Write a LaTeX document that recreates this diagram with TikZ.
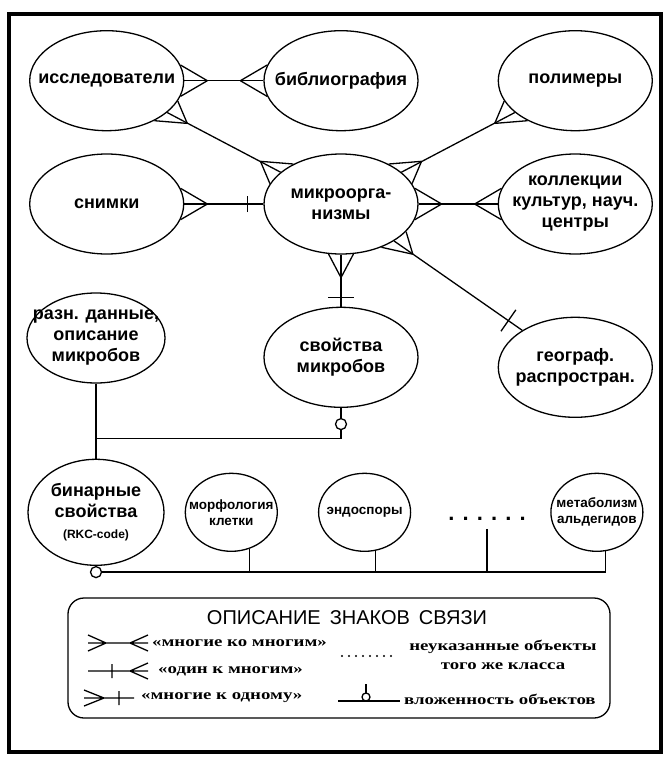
\documentclass[tikz,border=0pt]{standalone}
\usepackage{fontspec}
\setmainfont{Liberation Sans}
\newfontfamily\legendfont[FakeStretch=1.3]{Liberation Serif}
\usetikzlibrary{shapes,positioning,calc}

% crow's foot ("many") at node #2, border angle #3, pointing to #4
\newcommand{\crowfoot}[4][12]{%
  \pgfmathtruncatemacro\angup{#3+#1}%
  \pgfmathtruncatemacro\angdn{#3-#1}%
  \draw[link] ($(#2.#3)!23pt!(#4)$) coordinate (cf) -- (#2.\angup)
    (cf) -- (#2.\angdn);}
% bar ("one") on the link at node #2, #5 away from its border
\newcommand{\onebar}[5][8pt]{%
  \coordinate (ob) at ($(#2.#3)!#5!(#4)$);
  \draw[link] ($(ob)!#1!90:(#4)$) -- ($(ob)!#1!-90:(#4)$);}

\begin{document}
\begin{tikzpicture}[
    x=1pt, y=-1pt,
    link/.style = {line width=1.3pt},
    caption/.style = {align=center, inner sep=0pt, font=\bfseries\fontsize{18}{21}\selectfont},
    entity/.style = {ellipse, draw, line width=1.3pt, minimum width=154pt, minimum height=100pt,
        inner sep=0pt, label={[caption]center:#1}},
    feature/.style = {ellipse, draw, line width=1.3pt, minimum width=92pt, minimum height=78pt,
        inner sep=0pt, label={[caption, font=\bfseries\fontsize{13.5}{16}\selectfont]center:#1}},
    ring/.style = {circle, draw, line width=1.3pt, fill=white, inner sep=0pt, minimum size=11pt},
    legendbox/.style = {draw, line width=1.3pt, rounded corners=16pt, minimum width=542pt, minimum height=120pt},
    legtext/.style = {inner sep=0pt, font=\legendfont\bfseries\fontsize{14.5}{19}\selectfont}
    ]
    \useasboundingbox (0,0) rectangle (670,769);
    \draw[line width=3.5pt] (9,14) rectangle (661,752);

    % entities
    \node[entity={микроорга-\\низмы}] (mic) at (341,204) {};
    \node[entity={снимки}, left=79pt of mic] (pics) {};
    \node[entity={коллекции\\культур, науч.\\центры}, right=79pt of mic] (coll) {};
    \node[entity={библиография}, above=22pt of mic] (bib) {};
    \node[entity={исследователи}, left=79pt of bib] (res) {};
    \node[entity={полимеры}, right=79pt of bib] (pol) {};
    \node[entity={свойства\\микробов}, below=52pt of mic] (props) {};
    \node[entity={географ.\\распростран.}, below=62pt of coll] (geo) {};
    \node[entity={разн. данные,\\описание\\микробов}, minimum width=138pt, minimum height=90pt] (data) at (96,338) {};
    \node[entity={бинарные\\свойства\\{\fontsize{12}{14}\selectfont(RKC-code)}},
        minimum width=136pt, minimum height=106pt, below=75pt of data] (bin) {};
    \node[feature={морфология\\клетки}, right=20pt of bin] (morph) {};
    \node[feature={эндоспоры}, right=40pt of morph] (endo) {};
    \node[font=\bfseries\fontsize{22}{22}\selectfont, inner ysep=8pt] (dots) at (487,519) {. . . . . .};
    \node[feature={метаболизм\\альдегидов}, right=21pt of dots.east |- bin.center, anchor=west] (metab) {};

    % links
    \draw[link] (res) -- (bib);
    \crowfoot{res}{0}{bib}
    \crowfoot{bib}{180}{res}
    \draw[link] (res) -- (mic);
    \crowfoot{res}{-28}{mic}
    \crowfoot{mic}{152}{res}
    \draw[link] (pics) -- (mic);
    \crowfoot{pics}{0}{mic}
    \onebar{mic}{180}{pics}{16pt}
    \draw[link] (mic) -- (pol);
    \crowfoot{mic}{28}{pol}
    \crowfoot{pol}{-152}{mic}
    \draw[link] (mic) -- (coll);
    \crowfoot{mic}{0}{coll}
    \crowfoot{coll}{180}{mic}
    \draw[link] (mic) -- (props);
    \crowfoot[14]{mic}{-90}{props}
    \onebar[13pt]{props}{90}{mic}{9pt}
    \draw[link] (mic) -- (geo);
    \crowfoot{mic}{-35}{geo}
    \onebar[13pt]{geo}{145}{mic}{17pt}

    % nesting
    \node[ring, below=10pt of props] (ringA) {};
    \node[ring, below=0pt of bin] (ringB) {};
    \coordinate[below=55pt of data] (join);
    \draw[link] (data) -- (bin);
    \draw[link] (props) -- (ringA) |- (join);
    \draw[link] (ringB) -- (metab.-78 |- ringB) -- (metab.-78);
    \draw[link] (morph.-63) -- (morph.-63 |- ringB);
    \draw[link] (endo.-74) -- (endo.-74 |- ringB);
    \draw[link] (dots) -- (dots |- ringB);

    % legend
    \node[legendbox] (legend) at (339,658) {};
    \node[font=\fontsize{20}{20}\selectfont] (title) at (347,618) {ОПИСАНИЕ\hspace{9pt}ЗНАКОВ\hspace{9pt}СВЯЗИ};
    \draw[link] (88,643) -- (148,643) (88,635) -- (106,643) -- (88,651)
        (148,635) -- (130,643) -- (148,651);
    \draw[link] (88,671) -- (148,671) (112,664) -- (112,678)
        (148,663) -- (130,671) -- (148,679);
    \draw[link] (84,698) -- (134,698) (84,690) -- (104,698) -- (84,706)
        (119,691) -- (119,705);
    \node[legtext, anchor=west] (mm) at (152,643) {«многие ко многим»};
    \node[legtext, anchor=west] (om) at (158,671) {«один к многим»};
    \node[legtext, anchor=west] (mo) at (141,698) {«многие к одному»};
    \foreach \k in {0,...,7}
        \fill (342+7*\k,656) circle (1.1pt);
    \node[legtext, align=center] (unk) at (503,655) {неуказанные объекты\\того же класса};
    \draw[link] (338,701) -- (400,701) (366,693) -- (366,684);
    \draw[link, fill=white] (366,697) circle (4pt);
    \node[legtext, anchor=west] (nest) at (404,699) {вложенность объектов};
\end{tikzpicture}
\end{document}
